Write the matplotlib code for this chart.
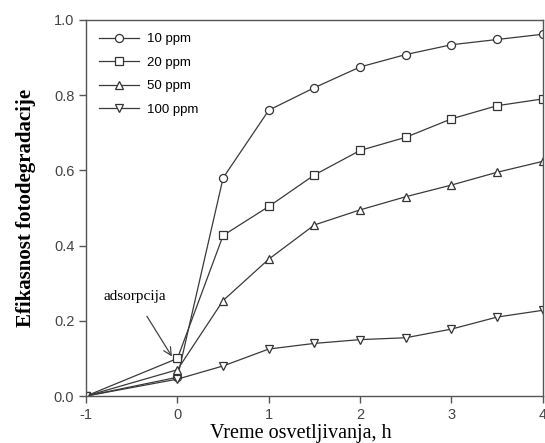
import matplotlib.pyplot as plt

plt.rcParams["axes.unicode_minus"] = False

hours = [-1, 0, 0.5, 1, 1.5, 2, 2.5, 3, 3.5, 4]

ppm_10 = [0.0, 0.05, 0.58, 0.76, 0.82, 0.875, 0.908, 0.934, 0.948, 0.962]
ppm_20 = [0.0, 0.10, 0.427, 0.504, 0.588, 0.653, 0.688, 0.737, 0.772, 0.79]
ppm_50 = [0.0, 0.07, 0.254, 0.364, 0.455, 0.495, 0.53, 0.561, 0.595, 0.624]
ppm_100 = [0.0, 0.045, 0.08, 0.125, 0.14, 0.15, 0.155, 0.178, 0.21, 0.228]

labels = ["10 ppm", "20 ppm", "50 ppm", "100 ppm"]
markers = ["o", "s", "^", "v"]

line_color = "#3a3a3a"

fig = plt.figure(figsize=(5.45, 4.43), dpi=100)
ax = fig.add_axes([0.158, 0.106, 0.838, 0.849])

for values, label, marker in zip([ppm_10, ppm_20, ppm_50, ppm_100], labels, markers):
    ax.plot(
        hours,
        values,
        marker=marker,
        color=line_color,
        linewidth=0.9,
        markersize=5.8,
        markerfacecolor="white",
        markeredgecolor="#333333",
        markeredgewidth=0.9,
        label=label,
    )

ax.set_xlim(-1, 4)
ax.set_ylim(0, 1.0)
ax.set_xticks([-1, 0, 1, 2, 3, 4])
ax.set_yticks([0.0, 0.2, 0.4, 0.6, 0.8, 1.0])
ax.set_yticklabels(["0.0", "0.2", "0.4", "0.6", "0.8", "1.0"])

for spine in ax.spines.values():
    spine.set_color("#555555")
    spine.set_linewidth(1.0)

ax.tick_params(
    direction="out",
    length=5,
    width=1.0,
    color="#555555",
    labelsize=10.5,
    labelcolor="#444444",
)
for tick in ax.get_xticklabels() + ax.get_yticklabels():
    tick.set_family("Liberation Sans")

ax.set_xlabel("Vreme osvetljivanja, h", family="Liberation Serif", fontsize=14.5)
ax.xaxis.set_label_coords(0.47, -0.075)
ax.set_ylabel("Efikasnost fotodegradacije", family="Liberation Serif", fontsize=15,
              fontweight="bold")
ax.yaxis.set_label_coords(-0.11, 0.5)

ax.annotate(
    "adsorpcija",
    xy=(-0.06, 0.105),
    xytext=(-0.47, 0.265),
    family="Liberation Serif",
    fontsize=11,
    ha="center",
    va="center",
    arrowprops=dict(arrowstyle="->", color="#444444", linewidth=0.9,
                    shrinkA=9, shrinkB=0, mutation_scale=14),
)

ax.legend(
    loc="upper left",
    frameon=False,
    handlelength=3.0,
    handletextpad=0.6,
    labelspacing=0.85,
    borderaxespad=0.6,
    prop={"family": "Liberation Sans", "size": 9.5},
)

fig.savefig("out.png", dpi=100)
